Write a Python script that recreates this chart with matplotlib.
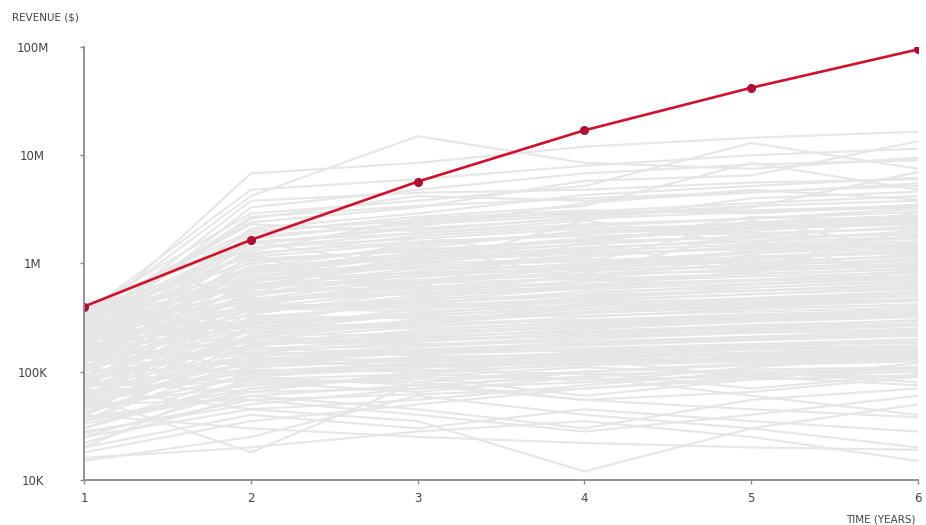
import matplotlib
matplotlib.use("Agg")
import matplotlib.pyplot as plt
from matplotlib.ticker import FixedLocator, NullLocator

years = [1, 2, 3, 4, 5, 6]
year_labels = ["1", "2", "3", "4", "5", "6"]

# highlighted company revenue ($)
highlight = [400e3, 1.65e6, 5.7e6, 17e6, 42e6, 95e6]

# other companies' revenue, in thousands of dollars
top_group = [
    [260, 6800, 8500, 12000, 14500, 16500],
    [310, 4200, 15000, 8500, 7500, 9500],
    [340, 4800, 6000, 8000, 10000, 11500],
    [210, 3300, 4800, 6800, 8200, 9000],
    [370, 2900, 3800, 5200, 13000, 7500],
    [290, 2400, 3300, 5800, 6500, 13500],
    [160, 2100, 2900, 4300, 5200, 6200],
    [330, 1900, 2700, 3400, 8500, 4800],
    [240, 2600, 4200, 3800, 4500, 5500],
    [190, 1700, 2400, 3000, 3600, 4200],
    [280, 1500, 2200, 3600, 4800, 3900],
    [350, 2300, 2000, 2700, 3300, 7000],
    [220, 1300, 2600, 3100, 2900, 3500],
    [130, 1600, 1900, 2500, 4000, 4600],
    [300, 1200, 1800, 2200, 2600, 3000],
]
middle_group = [
    [120, 900, 1500, 1900, 2400, 2800],
    [250, 1100, 1300, 1700, 2000, 2500],
    [180, 800, 1200, 1500, 1800, 2200],
    [90, 700, 1000, 1400, 1600, 2000],
    [200, 950, 1100, 1300, 1500, 1700],
    [320, 600, 900, 1200, 1400, 1500],
    [150, 500, 800, 1000, 1300, 1800],
    [110, 650, 700, 900, 1100, 1300],
    [270, 750, 1000, 1100, 1000, 1200],
    [80, 450, 650, 850, 950, 1100],
    [230, 550, 600, 750, 900, 1000],
    [170, 400, 700, 800, 850, 950],
    [60, 350, 500, 700, 800, 900],
    [140, 300, 450, 600, 700, 850],
    [210, 480, 520, 580, 650, 750],
    [100, 380, 420, 550, 600, 700],
    [70, 250, 380, 480, 560, 650],
    [300, 420, 400, 450, 520, 600],
    [125, 280, 350, 420, 480, 550],
    [55, 220, 300, 380, 440, 500],
    [190, 330, 310, 350, 400, 450],
    [85, 200, 260, 320, 380, 420],
    [45, 180, 240, 290, 330, 380],
    [160, 260, 280, 300, 310, 350],
    [95, 160, 200, 250, 290, 320],
    [40, 150, 190, 220, 260, 300],
    [240, 230, 210, 240, 260, 280],
    [75, 140, 170, 200, 230, 250],
    [35, 130, 160, 180, 200, 230],
    [135, 190, 180, 190, 210, 220],
    [65, 120, 150, 165, 180, 200],
    [50, 110, 130, 150, 170, 190],
    [115, 170, 140, 140, 160, 170],
    [30, 100, 120, 135, 145, 160],
    [280, 1400, 1700, 2100, 2300, 2700],
    [360, 1000, 1400, 2000, 2200, 2400],
    [220, 850, 1250, 1650, 2100, 2300],
    [145, 620, 1100, 1350, 1700, 1900],
    [105, 520, 850, 1150, 1450, 1600],
    [260, 680, 950, 1050, 1250, 1400],
    [185, 460, 750, 950, 1150, 1250],
    [75, 390, 560, 780, 1000, 1050],
    [330, 720, 820, 880, 930, 980],
    [160, 340, 560, 680, 760, 820],
    [90, 310, 430, 520, 640, 730],
    [205, 360, 470, 510, 560, 620],
    [60, 240, 340, 460, 520, 580],
    [130, 270, 330, 400, 460, 510],
    [250, 390, 360, 410, 430, 470],
    [45, 210, 280, 350, 390, 410],
    [175, 300, 320, 330, 360, 390],
    [80, 190, 230, 270, 310, 340],
    [380, 2000, 2500, 2900, 3100, 3400],
    [210, 1250, 1600, 1800, 1900, 2100],
    [155, 1050, 1350, 1600, 1750, 1850],
    [120, 760, 1050, 1250, 1350, 1450],
    [290, 880, 900, 950, 1150, 1350],
    [70, 580, 780, 900, 1050, 1150],
    [230, 640, 660, 720, 800, 880],
    [100, 430, 590, 640, 710, 780],
    [55, 320, 410, 470, 600, 680],
    [190, 410, 380, 440, 470, 530],
    [140, 240, 290, 360, 410, 460],
    [35, 175, 220, 260, 300, 330],
    [265, 290, 250, 280, 320, 360],
    [110, 210, 190, 230, 250, 270],
    [52, 125, 155, 175, 195, 215],
    [150, 145, 160, 155, 175, 185],
    [300, 1600, 900, 2500, 1500, 3000],
    [200, 500, 1800, 1000, 2500, 1300],
    [150, 900, 600, 1600, 800, 2200],
    [350, 700, 1500, 700, 1200, 900],
    [100, 1200, 500, 800, 2000, 600],
]
lower_middle_group = [
    [20, 90, 110, 130, 150, 170],
    [25, 70, 95, 120, 130, 140],
    [30, 85, 80, 100, 115, 125],
    [38, 60, 75, 90, 105, 110],
    [42, 95, 105, 95, 100, 105],
    [48, 75, 90, 110, 95, 90],
    [58, 105, 100, 115, 125, 135],
    [65, 85, 95, 85, 90, 100],
    [72, 115, 125, 140, 150, 160],
    [88, 130, 110, 120, 135, 150],
    [95, 80, 85, 100, 120, 130],
    [105, 100, 115, 125, 140, 155],
    [118, 120, 135, 145, 165, 175],
    [128, 150, 145, 160, 170, 190],
    [142, 95, 110, 130, 150, 165],
    [165, 135, 125, 120, 130, 145],
    [180, 110, 130, 150, 175, 190],
    [215, 160, 175, 210, 230, 240],
    [260, 180, 200, 215, 240, 265],
    [33, 65, 70, 80, 95, 100],
    [27, 55, 62, 70, 85, 92],
    [62, 140, 160, 185, 210, 240],
    [85, 175, 210, 235, 270, 295],
    [110, 235, 265, 300, 340, 370],
    [175, 280, 330, 380, 420, 460],
    [195, 370, 440, 500, 560, 610],
    [235, 450, 540, 610, 690, 760],
    [275, 520, 680, 790, 870, 950],
    [315, 640, 820, 1000, 1150, 1250],
    [345, 820, 1150, 1400, 1600, 1750],
    [385, 1150, 1550, 1900, 2150, 2350],
    [395, 1550, 2100, 2600, 3000, 3300],
    [225, 1800, 2300, 2800, 3400, 3800],
    [265, 2700, 3400, 4000, 4600, 5200],
    [245, 3800, 4500, 4800, 5600, 6000],
    [185, 900, 1250, 1500, 2700, 2500],
    [125, 1400, 1900, 2300, 2600, 3200],
    [205, 580, 1200, 1700, 2200, 2600],
    [55, 420, 640, 950, 1250, 1550],
    [40, 270, 480, 620, 840, 1100],
]
low_group = [
    [15, 25, 60, 40, 30, 20],
    [60, 18, 80, 55, 45, 38],
    [25, 45, 35, 12, 30, 50],
    [18, 35, 50, 70, 90, 110],
    [40, 30, 25, 22, 20, 19],
    [22, 60, 45, 30, 55, 70],
    [30, 80, 65, 90, 60, 40],
    [50, 55, 40, 28, 40, 60],
    [16, 20, 28, 35, 25, 15],
    [35, 70, 90, 60, 85, 120],
    [70, 45, 55, 75, 100, 80],
    [28, 50, 70, 100, 70, 95],
    [45, 90, 75, 55, 65, 90],
    [20, 40, 30, 45, 35, 28],
    [55, 100, 120, 80, 110, 140],
    [80, 65, 100, 130, 90, 75],
]

y_ticks = [1e4, 1e5, 1e6, 1e7, 1e8]
y_tick_labels = ["10K", "100K", "1M", "10M", "100M"]

W, H = 926, 525
fig = plt.figure(figsize=(W / 100, H / 100), dpi=100)
ax = fig.add_axes([84 / W, 1 - 480 / H, (918 - 84) / W, (480 - 47) / H])

gray = "#e6e6e6"
for series in top_group + middle_group + lower_middle_group + low_group:
    ax.plot(years, [v * 1e3 for v in series], color=gray, lw=1.5,
            solid_joinstyle="miter", zorder=1)

ax.plot(years, highlight, color="#d0112b", lw=1.9, zorder=3)
ax.plot(years, highlight, ls="none", marker="o", ms=5.5,
        color="#b00d35", zorder=4)

ax.set_yscale("log")
ax.set_xlim(1, 6)
ax.set_ylim(1e4, 1e8)
ax.yaxis.set_major_locator(FixedLocator(y_ticks))
ax.yaxis.set_minor_locator(NullLocator())
ax.set_yticklabels(y_tick_labels)
ax.set_xticks(years)
ax.set_xticklabels(year_labels)

for s in ["top", "right"]:
    ax.spines[s].set_visible(False)
for s in ["left", "bottom"]:
    ax.spines[s].set_color("#8a8a8a")
    ax.spines[s].set_linewidth(1.3)
    ax.spines[s].set_zorder(5)

ax.tick_params(axis="y", length=3, width=1, color="#8a8a8a",
               labelsize=8.5, labelcolor="#444444", pad=34)
ax.tick_params(axis="x", length=3, width=1, color="#8a8a8a",
               labelsize=8.5, labelcolor="#444444", pad=6)
for lab in ax.get_yticklabels():
    lab.set_horizontalalignment("center")

fig.text(12 / W, 1 - 17 / H, "REVENUE ($)", fontsize=7.5, color="#444444",
         ha="left", va="center")
fig.text(846 / W, 1 - 519 / H, "TIME (YEARS)", fontsize=7.5, color="#444444",
         ha="left", va="center")

fig.savefig("out.png", dpi=100, facecolor="white")
